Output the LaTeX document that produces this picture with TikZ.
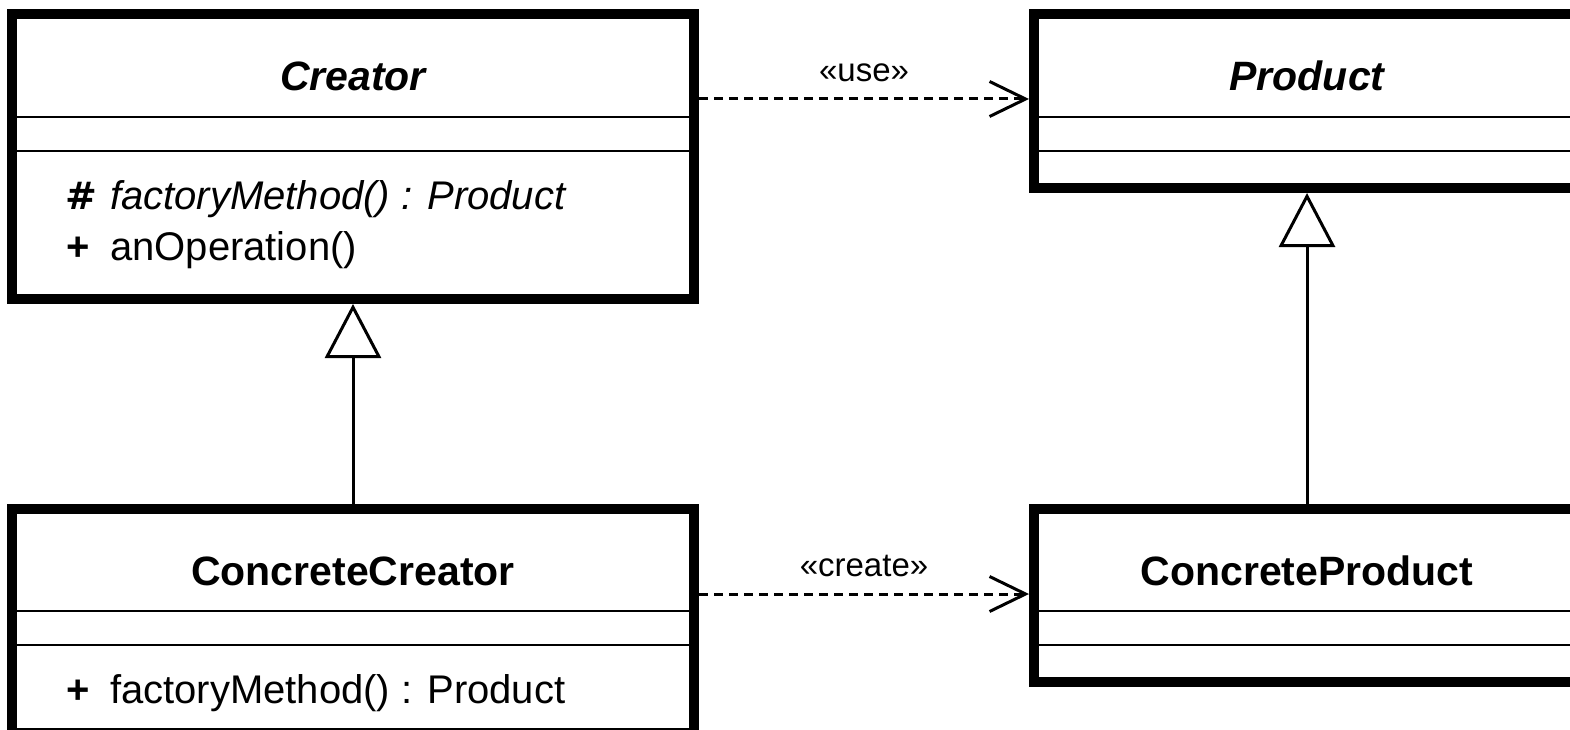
\documentclass[tikz,border=0pt]{standalone}
\usepackage{fontspec}
\setmainfont{Liberation Sans}
\newfontfamily\symbolface{DejaVu Sans}
\usetikzlibrary{arrows.meta}
\begin{document}
\begin{tikzpicture}[x=1pt,y=-1pt,
  classbox/.style={draw, line width=10pt, inner sep=0pt},
  divider/.style={line width=2.8pt},
  namefont/.style={font=\fontsize{41}{49}\selectfont\bfseries},
  memberfont/.style={font=\fontsize{40}{48}\selectfont},
  labelfont/.style={font=\fontsize{33}{40}\selectfont},
  dependency/.style={line width=3pt, dash pattern=on 9pt off 6pt,
    -{Straight Barb[length=36pt,width=35pt]}},
  generalization/.style={line width=3pt,
    -{Triangle[open,length=54pt,width=56pt]}}]

  \useasboundingbox (0,0) rectangle (1570,730);
  \clip (0,0) rectangle (1570,730);

  % class frames
  \node[classbox, minimum width=682pt, minimum height=284.5pt] (creator) at (353,156.75) {};
  \node[classbox, minimum width=546pt, minimum height=173.5pt] (product) at (1307,101.25) {};
  \node[classbox, minimum width=682pt, minimum height=224.5pt] (ccreator) at (353,620.75) {};
  \node[classbox, minimum width=546pt, minimum height=173pt] (cproduct) at (1307,595.5) {};

  % compartment separators
  \coordinate (sepA) at (0,117);
  \coordinate (sepB) at (0,151);
  \coordinate (sepC) at (0,611);
  \coordinate (sepD) at (0,645);
  \draw[divider] (creator.west |- sepA) -- (creator.east |- sepA);
  \draw[divider] (creator.west |- sepB) -- (creator.east |- sepB);
  \draw[divider] (product.west |- sepA) -- (product.east |- sepA);
  \draw[divider] (product.west |- sepB) -- (product.east |- sepB);
  \draw[divider] (ccreator.west |- sepC) -- (ccreator.east |- sepC);
  \draw[divider] (ccreator.west |- sepD) -- (ccreator.east |- sepD);
  \draw[divider] (cproduct.west |- sepC) -- (cproduct.east |- sepC);
  \draw[divider] (cproduct.west |- sepD) -- (cproduct.east |- sepD);

  % class names
  \node[namefont, anchor=base] (creatorName) at (353,91) {\itshape Creator};
  \node[namefont, anchor=base] (productName) at (1307,91) {\itshape Product};
  \node[namefont, anchor=base] (ccreatorName) at (353,585) {ConcreteCreator};
  \node[namefont, anchor=base] (cproductName) at (1307,585) {ConcreteProduct};

  % members
  \node[anchor=base west, inner sep=0pt, font=\fontsize{38}{44}\selectfont\symbolface\bfseries\upshape] (visA) at (65,209) {\#};
  \node[memberfont, anchor=base west, inner sep=0pt] (memA) at (110,209) {\itshape factoryMethod() : Product};
  \node[memberfont, anchor=base west, inner sep=0pt] (visB) at (66,260) {\bfseries +};
  \node[memberfont, anchor=base west, inner sep=0pt] (memB) at (110,260) {anOperation()};
  \node[memberfont, anchor=base west, inner sep=0pt] (visC) at (66,703) {\bfseries +};
  \node[memberfont, anchor=base west, inner sep=0pt] (memC) at (110,703) {factoryMethod() : Product};

  % dependencies
  \coordinate (useY) at (0,99);
  \coordinate (createY) at (0,594);
  \draw[dependency] (creator.east |- useY) -- (product.west |- useY)
    node[labelfont, midway, anchor=base, yshift=17pt, inner sep=0pt] (useLabel) {«use»};
  \draw[dependency] (ccreator.east |- createY) -- (cproduct.west |- createY)
    node[labelfont, midway, anchor=base, yshift=18pt, inner sep=0pt] (createLabel) {«create»};

  % generalizations
  \draw[generalization] (ccreator.north) -- (creator.south);
  \draw[generalization] (cproduct.north) -- (product.south);
\end{tikzpicture}
\end{document}
